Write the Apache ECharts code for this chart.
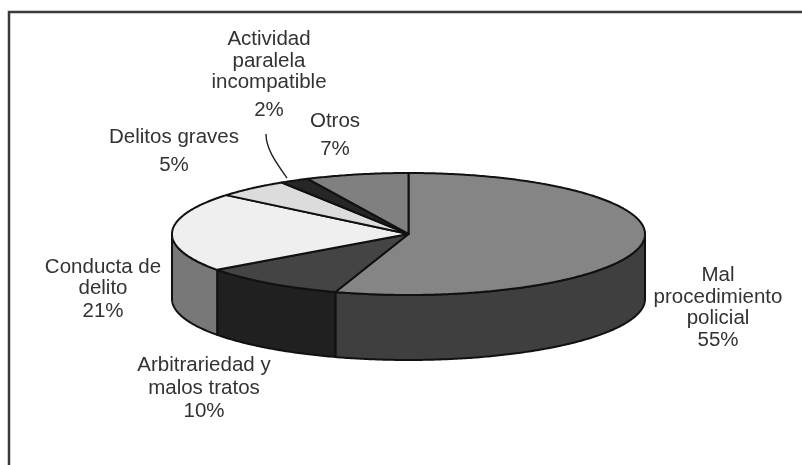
<!DOCTYPE html>
<html>
<head>
<meta charset="utf-8">
<style>html,body{margin:0;padding:0;background:#fff}#chart{width:802px;height:465px}</style>
<script src="https://cdn.jsdelivr.net/npm/echarts@6/dist/echarts.min.js"></script>
</head>
<body>
<div id="chart"></div>
<script>
// Motivos de sanción: shares in percent, clockwise from twelve o'clock.
const categories = ['Mal procedimiento policial', 'Arbitrariedad y malos tratos', 'Conducta de delito', 'Delitos graves', 'Actividad paralela incompatible', 'Otros'];
const shares = [55, 10, 21, 5, 2, 7];
const labelLines = [
  ['Mal', 'procedimiento', 'policial', '55%'],
  ['Arbitrariedad y', 'malos tratos', '10%'],
  ['Conducta de', 'delito', '21%'],
  ['Delitos graves', '5%'],
  ['Actividad', 'paralela', 'incompatible', '2%'],
  ['Otros', '7%']
];

// Disc geometry and shading
const disc = { cx: 408.5, cy: 234, rx: 236.5, ry: 61, depth: 65 };
const topColors = ['#858585', '#444444', '#efefef', '#dcdcdc', '#262626', '#808080'];
const wallColors = ['#3f3f3f', '#202020', '#787878', '#787878', '#787878', '#787878'];
const labelX = [718, 204, 103, 174, 269, 335];
const labelY = [
  [275, 297, 318, 340],
  [365, 388, 411],
  [267, 288, 311],
  [137, 165],
  [39, 61, 82, 110],
  [121, 149]
];
const FONT = '"Liberation Sans", Arial, sans-serif';
const FONT_SIZE = 20.5;
const INK = '#333333';

const total = shares.reduce((a, b) => a + b, 0);
const toRad = s => s / total * Math.PI * 2;
const rim = (a, dy) => [disc.cx + disc.rx * Math.sin(a), disc.cy - disc.ry * Math.cos(a) + dy];

function arcPoints(a0, a1, dy) {
  const n = Math.max(2, Math.ceil((a1 - a0) / 0.01));
  const pts = [];
  for (let i = 0; i <= n; i++) pts.push(rim(a0 + (a1 - a0) * i / n, dy));
  return pts;
}

function renderSlice(params, api) {
  const i = params.dataIndex;
  let before = 0;
  for (let k = 0; k < i; k++) before += shares[k];
  const a0 = toRad(before);
  const a1 = toRad(before + api.value(0));
  const line = { stroke: '#111', lineWidth: 2, lineJoin: 'round' };
  const children = [];

  // Wall: only the front half of the rim is visible
  const w0 = Math.max(a0, Math.PI / 2);
  const w1 = Math.min(a1, Math.PI * 1.5);
  if (w1 > w0) {
    children.push({
      type: 'polygon',
      shape: { points: arcPoints(w0, w1, 0).concat(arcPoints(w0, w1, disc.depth).reverse()) },
      style: Object.assign({ fill: wallColors[i] }, line)
    });
  }
  // Top face
  children.push({
    type: 'polygon',
    shape: { points: [[disc.cx, disc.cy]].concat(arcPoints(a0, a1, 0)) },
    style: Object.assign({ fill: topColors[i] }, line)
  });
  // Category label, one text element per line
  labelLines[i].forEach((t, n) => {
    children.push({
      type: 'text',
      style: {
        text: t, x: labelX[i], y: labelY[i][n],
        font: FONT_SIZE + 'px ' + FONT, fill: INK, align: 'center', verticalAlign: 'middle'
      }
    });
  });
  return { type: 'group', children };
}

const chart = echarts.init(document.getElementById('chart'), null, { renderer: 'canvas' });
chart.setOption({
  animation: false,
  backgroundColor: '#ffffff',
  graphic: [
    { type: 'polyline', silent: true, z: 5,
      shape: { points: [[9, 465], [9, 12], [802, 12]] },
      style: { fill: null, stroke: '#3a3a3a', lineWidth: 2.5 } },
    { type: 'bezierCurve', silent: true, z: 5,
      shape: { x1: 266, y1: 134, cpx1: 266, cpy1: 150, cpx2: 278, cpy2: 165, x2: 287, y2: 178 },
      style: { fill: null, stroke: '#222', lineWidth: 1.4 } }
  ],
  series: [{
    type: 'custom',
    coordinateSystem: 'none',
    renderItem: renderSlice,
    data: shares.map((v, i) => ({ name: categories[i], value: [v] }))
  }]
});
</script>
</body>
</html>
